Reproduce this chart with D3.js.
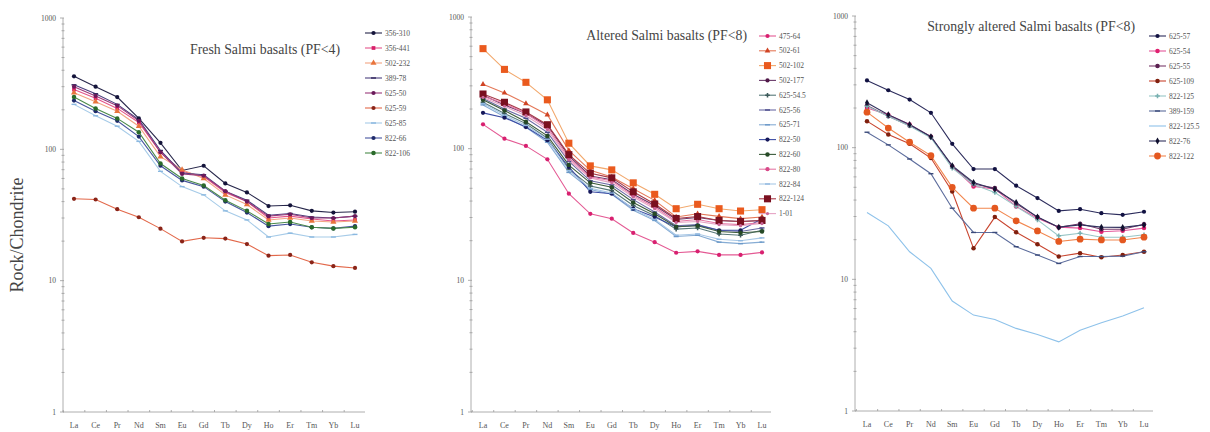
<!DOCTYPE html>
<html><head><meta charset="utf-8">
<script src="https://cdn.jsdelivr.net/npm/d3@7"></script>
<style>
body{margin:0;background:#fff}
svg{display:block}
text{font-family:"Liberation Serif","DejaVu Serif",serif}
</style>
</head><body>
<svg id="c" width="1210" height="432"></svg>
<script>
// ---------- DATA ----------
const ree = ["La","Ce","Pr","Nd","Sm","Eu","Gd","Tb","Dy","Ho","Er","Tm","Yb","Lu"];
const yTickValues = [1, 10, 100, 1000];
const yTickLabels = ["1", "10", "100", "1000"];
const yAxisTitle = "Rock/Chondrite";

const freshTitle = "Fresh Salmi basalts (PF<4)";
const freshNames = ["356-310","356-441","502-232","389-78","625-50","625-59","625-85","822-66","822-106"];
const freshValues = [
  [360,300,250,172,112,69,75,55,47,37,37.5,34,33,33.5],
  [285,245,205,160,95,68,62,47,40,30,31,29.5,28.5,29],
  [270,230,195,150,88,70,60,45,38,29,30,28.5,28,28.5],
  [310,265,220,168,98,66,64,48,41,31.5,32.5,30.5,30,31],
  [300,255,215,165,95,65,63,48,40,31,32,30,30,31],
  [42,41.5,35,30.4,24.9,19.9,21.2,20.9,19,15.5,15.7,13.8,12.9,12.5],
  [220,180,150,115,68,52,45,34,29,21.5,23,21.5,21.5,22.5],
  [235,195,165,125,75,58,52,40,33,26,27,25.5,25,26],
  [250,205,172,135,78,60,53,41,34,27,28,25.5,25,25.5]
];

const alteredTitle = "Altered Salmi basalts (PF<8)";
const alteredNames = ["475-64","502-61","502-102","502-177","625-54.5","625-56","625-71","822-50","822-60","822-80","822-84","822-124","1-01"];
const alteredValues = [
  [153,119,105,83,45.5,32,29.4,22.9,19.5,16.2,16.6,15.6,15.6,16.3],
  [308,265,220,181,97,68.5,61,49.7,40.5,30.3,32,30.6,29.4,30.3],
  [575,400,319,235,110,74,69,55,45,35,37.8,35,33.6,34.4],
  [255,215,185,150,88,62,58,45,37,29,30,28.5,28,28.5],
  [225,185,155,120,70,52,48,37,31,24.5,25,22.5,22,24],
  [240,200,170,133,80,57,53,41,33,26,26.5,24,23.5,25],
  [215,175,145,112,66,49,45,34,28.5,21.5,22,19.5,19,19.5],
  [187,172,146,116,72.6,47,45.5,35,30.3,25.4,26.2,24,24,29.4],
  [235,195,160,125,75,55,51,39,32,25.5,26,23.5,23,23.5],
  [250,220,185,145,85,61,57,44,36,28,29,27,26.5,27.5],
  [220,180,150,118,68,50,46,35,29,22,22.5,20.5,20,21],
  [260,225,190,152,90,65,60,47,38,29.5,30.5,28.5,28,28.5],
  [245,210,178,140,82,60,55,43,35,27.5,28,26.5,26,27]
];

const strongTitle = "Strongly altered Salmi basalts (PF<8)";
const strongNames = ["625-57","625-54","625-55","625-109","822-125","389-159","822-125.5","822-76","822-122"];
const strongValues = [
  [324,273,232,184,107,68.8,68.8,51.4,41.4,33.1,34.1,31.8,30.9,32.6],
  [200,178,150,121,72,50.8,48.6,35.8,29.1,24.9,24.5,23,23.4,24.5],
  [209,173,147,121,72,53,49.3,37.5,29.7,24.8,26.4,24,24,26.2],
  [159,126,107,83.4,46.5,17.2,29.7,22.8,18.5,14.9,15.8,14.7,15.3,16.2],
  [206,173,146,119,70,52.5,45.7,35.8,28.3,21.4,22.4,20.9,20.9,21.8],
  [131,105,82,63.4,34.7,22.7,22.7,17.7,15.3,13.2,14.9,14.9,15,16.2],
  [32.2,25.5,16.2,12.1,6.84,5.35,4.96,4.24,3.81,3.35,4.11,4.68,5.26,6.09],
  [219,178,150,121,73,54.4,48.4,38.4,29.7,24.9,25.9,24.9,24.8,25.9],
  [186,141,110,87,50,34.7,34.7,27.8,23.3,19.4,20.2,19.9,19.9,20.9]
];

// ---------- STYLES ----------
const freshStyle = [
  {line:"#26264a", fill:"#14143a", sym:"circle", s:14},
  {line:"#e4558a", fill:"#d8206a", sym:"square", s:14},
  {line:"#f2a582", fill:"#e8743c", sym:"triangle", s:16},
  {line:"#4c407e", fill:"#32285e", sym:"dash", s:0},
  {line:"#9a3a7a", fill:"#6a1a5a", sym:"circle", s:14},
  {line:"#e2684a", fill:"#8a2418", sym:"circle", s:14},
  {line:"#a6cbe8", fill:"#8ab8e0", sym:"dash", s:0},
  {line:"#46559e", fill:"#1e2a6a", sym:"circle", s:14},
  {line:"#4a8a4a", fill:"#2a6a2a", sym:"circle", s:16}
];
const alteredStyle = [
  {line:"#e45a94", fill:"#d82070", sym:"circle", s:14},
  {line:"#e47858", fill:"#d04424", sym:"triangle", s:14},
  {line:"#f2a86c", fill:"#ea5a1e", sym:"square", s:50},
  {line:"#6a3a6a", fill:"#501848", sym:"circle", s:14},
  {line:"#567878", fill:"#3c5a5a", sym:"cross", s:12},
  {line:"#6a6aa4", fill:"#4a4a8a", sym:"dash", s:0},
  {line:"#86acd4", fill:"#6a98c8", sym:"dash", s:0},
  {line:"#3c4ca4", fill:"#16185a", sym:"circle", s:14},
  {line:"#3c5c3c", fill:"#264a26", sym:"circle", s:16},
  {line:"#e678a6", fill:"#d84888", sym:"circle", s:14},
  {line:"#a8c8e6", fill:"#90b8e0", sym:"dash", s:0},
  {line:"#a83848", fill:"#7a1020", sym:"square", s:50},
  {line:"#e6a4c4", fill:"#c86898", sym:"circle", s:8}
];
const strongStyle = [
  {line:"#2c2c5c", fill:"#121242", sym:"circle", s:14},
  {line:"#e4569a", fill:"#e02070", sym:"circle", s:16},
  {line:"#7a3c6c", fill:"#5a2050", sym:"circle", s:16},
  {line:"#c8442e", fill:"#80200e", sym:"circle", s:16},
  {line:"#98c6c6", fill:"#78b0b0", sym:"cross", s:12},
  {line:"#5c6c9c", fill:"#3a4a7a", sym:"dash", s:0},
  {line:"#8ec2ea", fill:"#8ec2ea", sym:"none", s:0},
  {line:"#32325e", fill:"#10102e", sym:"diamond", s:14},
  {line:"#f2864e", fill:"#e45820", sym:"circle", s:36}
];

// ---------- LAYOUT ----------
const panels = [
  {title:freshTitle, names:freshNames, values:freshValues, style:freshStyle,
   axisX:63, first:74, last:355, axisEnd:365, yTop:18, yBot:412,
   titleX:340, titleY:54, legX:365, legY:33, legStep:15},
  {title:alteredTitle, names:alteredNames, values:alteredValues, style:alteredStyle,
   axisX:471, first:483, last:762, axisEnd:771, yTop:17, yBot:412,
   titleX:747, titleY:40, legX:759, legY:36, legStep:14.8},
  {title:strongTitle, names:strongNames, values:strongValues, style:strongStyle,
   axisX:855, first:867, last:1144, axisEnd:1153, yTop:16, yBot:411,
   titleX:1135, titleY:31, legX:1149, legY:36, legStep:15}
];

const svg = d3.select("#c");
svg.append("rect").attr("width",1210).attr("height",432).attr("fill","#fff");

const axisColor = "#9a9a9a";
const textColor = "#555";

function drawMarker(g, st, x, y) {
  if (st.sym === "none") return;
  if (st.sym === "dash") {
    g.append("line").attr("x1",x-2.5).attr("x2",x+2.5).attr("y1",y).attr("y2",y)
      .attr("stroke",st.fill).attr("stroke-width",1.4);
    return;
  }
  const types = {circle:d3.symbolCircle, square:d3.symbolSquare, triangle:d3.symbolTriangle,
                 diamond:d3.symbolDiamond, cross:d3.symbolCross};
  g.append("path").attr("d", d3.symbol().type(types[st.sym]).size(st.s)())
    .attr("transform",`translate(${x},${y})`)
    .attr("fill",st.fill).attr("stroke","none");
}

panels.forEach(p => {
  const g = svg.append("g");
  const x = d3.scalePoint().domain(ree).range([p.first, p.last]);
  const y = d3.scaleLog().domain([1,1000]).range([p.yBot, p.yTop]);

  // y axis line
  g.append("line").attr("x1",p.axisX).attr("x2",p.axisX).attr("y1",y(1000)).attr("y2",y(1))
    .attr("stroke",axisColor).attr("stroke-width",0.8);
  // minor ticks
  const minor = [];
  for (let e = 0; e < 3; e++) for (let m = 2; m <= 9; m++) minor.push(m*Math.pow(10,e));
  g.selectAll(".mn").data(minor).enter().append("line")
    .attr("x1",p.axisX-1.5).attr("x2",p.axisX+1.5)
    .attr("y1",d=>y(d)).attr("y2",d=>y(d))
    .attr("stroke",axisColor).attr("stroke-width",0.8);
  // major ticks
  g.selectAll(".mj").data(yTickValues).enter().append("line")
    .attr("x1",p.axisX-3).attr("x2",p.axisX+1)
    .attr("y1",d=>y(d)).attr("y2",d=>y(d))
    .attr("stroke",axisColor).attr("stroke-width",0.8);
  g.selectAll(".yl").data(yTickValues).enter().append("text")
    .attr("x",p.axisX-7).attr("y",d=>y(d)+2.5)
    .attr("text-anchor","end").attr("font-size",7.5).attr("fill",textColor)
    .text((d,i)=>yTickLabels[i]);

  // x axis line
  g.append("line").attr("x1",p.axisX).attr("x2",p.axisEnd).attr("y1",y(1)).attr("y2",y(1))
    .attr("stroke",axisColor).attr("stroke-width",0.8);
  g.selectAll(".xt").data(ree).enter().append("line")
    .attr("x1",d=>x(d)-(x.step()/2)).attr("x2",d=>x(d)-(x.step()/2))
    .attr("y1",y(1)).attr("y2",y(1)-2)
    .attr("stroke",axisColor).attr("stroke-width",0.8);
  g.selectAll(".xl").data(ree).enter().append("text")
    .attr("x",d=>x(d)).attr("y",y(1)+16)
    .attr("text-anchor","middle").attr("font-size",8).attr("fill",textColor)
    .text(d=>d);

  // series
  const line = d3.line().x((d,i)=>x(ree[i])).y(d=>y(d));
  p.values.forEach((vals, si) => {
    const st = p.style[si];
    g.append("path").datum(vals).attr("d",line)
      .attr("fill","none").attr("stroke",st.line).attr("stroke-width",1.1);
  });
  p.values.forEach((vals, si) => {
    const st = p.style[si];
    const mg = g.append("g");
    vals.forEach((v,i) => drawMarker(mg, st, x(ree[i]), y(v)));
  });

  // title
  g.append("text").attr("x",p.titleX).attr("y",p.titleY)
    .attr("text-anchor","end").attr("font-size",13.8).attr("fill","#444")
    .text(p.title);

  // legend
  p.names.forEach((n, i) => {
    const st = p.style[i];
    const ly = p.legY + i*p.legStep;
    const lg = g.append("g");
    lg.append("line").attr("x1",p.legX).attr("x2",p.legX+17).attr("y1",ly).attr("y2",ly)
      .attr("stroke",st.line).attr("stroke-width",1.1);
    drawMarker(lg, st, p.legX+8.5, ly);
    lg.append("text").attr("x",p.legX+20).attr("y",ly+2.5)
      .attr("font-size",7.5).attr("fill",textColor).text(n);
  });
});

// y axis title
svg.append("text").attr("transform","translate(23,235) rotate(-90)")
  .attr("text-anchor","middle").attr("font-size",18).attr("fill","#444")
  .text(yAxisTitle);
</script>
</body></html>
